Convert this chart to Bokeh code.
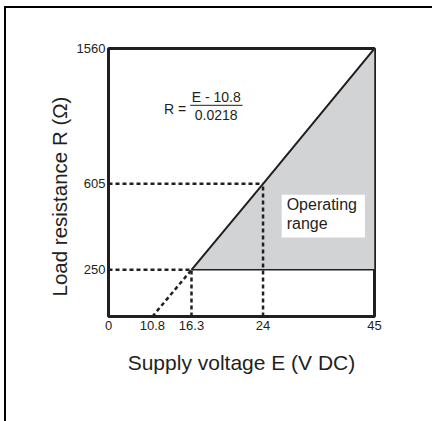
import numpy as np
from bokeh.plotting import figure
from bokeh.models import Range1d, FixedTicker, Label, Title
from bokeh.embed import file_html
from bokeh.resources import INLINE

# ---- data ----
E_TICKS = [0, 10.8, 16.3, 24, 45]          # supply voltage tick values (V DC)
R_TICKS = [0, 250, 605, 1560]              # load resistance tick values (ohm)
E_TICK_LABELS = ["0", "10.8", "16.3", "24", "45"]
R_TICK_LABELS = ["0", "250", "605", "1560"]

load_line_e = [10.8, 16.3, 24, 45]          # R = (E - 10.8) / 0.0218
load_line_r = [0, 250, 605, 1560]
region_e = [16.3, 45, 45]                   # operating range polygon
region_r = [250, 1560, 250]
r_min = 250
e_min = 16.3
e_nominal = 24
r_nominal = 605

# ---- schematic (non-linear) axis layout: where each tick sits along the axis ----
X_POS = [0.0, 0.165, 0.312, 0.581, 1.0]
Y_POS = [0.0, 0.174, 0.495, 1.0]

def sx(e):
    return np.interp(e, E_TICKS, X_POS)

def sy(r):
    return np.interp(r, R_TICKS, Y_POS)

INK = "#231f20"
FONT = "Liberation Sans"

p = figure(x_range=Range1d(0, 1), y_range=Range1d(0, 1),
           frame_width=266, frame_height=268,
           min_border_left=102, min_border_right=58,
           min_border_top=40, min_border_bottom=105,
           output_backend="svg", toolbar_location=None)
p.styles = {"border-top": "2px solid #000", "border-left": "2px solid #000",
            "margin-left": "4px", "margin-top": "6px"}

p.grid.visible = False
p.outline_line_color = INK
p.outline_line_width = 3

# operating range
p.patch(sx(region_e), sy(region_r), fill_color="#d1d3d4", line_color=None)

# solid boundary lines
p.line(sx(load_line_e[1:]), sy(load_line_r[1:]), line_color=INK, line_width=2)
p.line(sx([e_min, E_TICKS[-1]]), sy([r_min, r_min]), line_color=INK, line_width=1.5)

# dashed construction lines
dash = dict(line_color=INK, line_width=2.5, line_dash="4 3")
p.line(sx(load_line_e[:2]), sy(load_line_r[:2]), **dash)
p.line(sx([0, e_min]), sy([r_min, r_min]), **dash)
p.line(sx([e_min, e_min]), sy([0, r_min]), **dash)
p.line(sx([0, e_nominal]), sy([r_nominal, r_nominal]), **dash)
p.line(sx([e_nominal, e_nominal]), sy([0, r_nominal]), **dash)

# axes
xa = p.xaxis[0]
xa.ticker = FixedTicker(ticks=[float(v) for v in sx(E_TICKS)])
xa.major_label_overrides = {float(sx(v)): l for v, l in zip(E_TICKS, E_TICK_LABELS)}
xa.axis_label = "Supply voltage E (V DC)"
ya = p.yaxis[0]
ya.ticker = FixedTicker(ticks=[float(v) for v in sy(R_TICKS[1:])])
ya.major_label_overrides = {float(sy(v)): l for v, l in zip(R_TICKS[1:], R_TICK_LABELS[1:])}
for ax in (xa, ya):
    ax.axis_line_color = None
    ax.major_tick_line_color = None
    ax.minor_tick_line_color = None
    ax.major_tick_out = 0
    ax.major_tick_in = 0
    ax.minor_tick_out = 0
    ax.minor_tick_in = 0
    ax.major_label_text_font = FONT
    ax.major_label_text_font_size = "13px"
    ax.major_label_text_color = INK
    ax.axis_label_text_font = FONT
    ax.axis_label_text_font_style = "normal"
    ax.axis_label_text_color = INK
xa.axis_label_text_font_size = "21px"
xa.major_label_standoff = 4
xa.axis_label_standoff = 18
ya.major_label_standoff = 3

# y-axis title, set in the left panel so it can sit slightly below centre
p.add_layout(Title(text="Load resistance R (\u03a9)", align="left", offset=20,
                   standoff=5, text_font=FONT, text_font_size="20.5px",
                   text_font_style="normal", text_color=INK), "left")

# formula
p.add_layout(Label(x=0.209, y=0.776, text="R =", text_align="left",
                   text_baseline="middle", text_font=FONT,
                   text_font_size="14px", text_color=INK))
p.add_layout(Label(x=0.405, y=0.818, text="E - 10.8", text_align="center",
                   text_baseline="middle", text_font=FONT,
                   text_font_size="14px", text_color=INK))
p.add_layout(Label(x=0.405, y=0.753, text="0.0218", text_align="center",
                   text_baseline="middle", text_font=FONT,
                   text_font_size="14px", text_color=INK))
p.segment(x0=[0.307], y0=[0.788], x1=[0.504], y1=[0.788], line_color=INK, line_width=1)

# operating range note
p.add_layout(Label(x=0.651, y=0.454, text="Operating\nrange", text_align="left",
                   text_baseline="top", text_font=FONT, text_font_size="16px",
                   text_color=INK, text_line_height=1.1,
                   background_fill_color="white",
                   padding=dict(left=5, right=8, top=1, bottom=6)))

open("out.html", "w").write(file_html(p, INLINE))
